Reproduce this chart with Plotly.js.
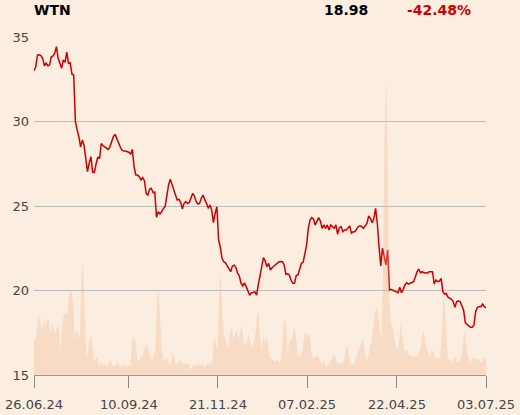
<!DOCTYPE html>
<html>
<head>
<meta charset="utf-8">
<script src="https://cdn.plot.ly/plotly-3.0.1.min.js"></script>
<style>
  html, body { margin: 0; padding: 0; background: #fcede1; }
  #chart { width: 520px; height: 415px; }
</style>
</head>
<body>
<div id="chart"></div>
<script>
// ---- Data ----
const ticker = 'WTN';
const lastPrice = '18.98';
const changePct = '-42.48%';

const tickLabels = ['26.06.24', '10.09.24', '21.11.24', '07.02.25', '22.04.25', '03.07.25'];
const tickFrac = [0, 0.210, 0.407, 0.604, 0.803, 1];

// Closing price (trading days, in order)
const priceJunAug = [33.0, 33.24, 33.93, 33.95, 33.9, 33.74, 33.3, 33.46, 33.3, 33.34, 33.83, 33.88, 34.03, 34.43, 33.74, 33.4, 33.15, 33.64, 33.5, 34.1, 33.44, 33.48, 32.8, 32.75, 29.99, 29.5, 29.1, 28.5, 28.9, 28.6, 27.8, 27.03, 27.53, 27.92, 27.0, 27.0, 27.5, 27.9, 27.8, 28.7, 28.57, 28.5, 28.4, 28.35, 28.5, 28.85, 29.1, 29.24, 28.96, 28.77, 28.5, 28.3, 28.25, 28.25, 28.2, 28.18, 28.06, 28.35, 27.33, 26.83, 26.83, 26.73, 26.54, 26.68];
const priceSepDec = [26.5, 25.75, 25.65, 25.99, 26.05, 25.79, 25.83, 24.33, 24.66, 24.53, 24.66, 24.86, 24.96, 25.75, 26.24, 26.58, 26.3, 25.99, 25.65, 25.36, 25.4, 25.2, 24.84, 25.16, 25.26, 25.16, 25.2, 25.46, 25.75, 25.59, 25.26, 25.12, 25.16, 25.46, 25.65, 25.36, 25.16, 24.86, 25.06, 24.76, 24.01, 24.57, 24.96, 22.99, 22.56, 21.9, 21.7, 21.64, 21.45, 21.21, 21.11, 21.45, 21.5, 21.37, 21.02, 20.86, 20.43, 20.27, 20.46, 20.23, 19.99, 19.72, 19.87, 19.87];
const priceJanApr = [19.93, 19.73, 20.33, 20.82, 21.51, 21.94, 21.75, 21.41, 21.61, 21.21, 21.35, 21.45, 21.51, 21.61, 21.7, 21.72, 21.7, 21.51, 20.96, 20.99, 20.92, 20.62, 20.43, 20.43, 20.88, 20.92, 21.21, 21.61, 21.67, 22.1, 22.69, 23.68, 24.17, 24.31, 24.23, 23.88, 24.07, 24.31, 24.11, 23.68, 23.88, 23.68, 23.88, 23.58, 23.88, 23.78, 23.68, 23.88, 23.33, 23.72, 23.78, 23.48, 23.58, 23.58, 23.72, 23.82, 23.39, 23.48, 23.48, 23.62, 23.78, 23.83, 23.78, 23.68, 23.8];
const priceAprJul = [23.98, 24.41, 24.27, 24.01, 24.27, 24.86, 23.98, 22.59, 21.45, 22.5, 21.9, 21.51, 22.4, 20.03, 20.07, 20.03, 19.99, 19.93, 19.87, 20.19, 19.87, 20.07, 20.33, 20.46, 20.38, 20.43, 20.46, 20.52, 20.78, 21.11, 21.27, 21.05, 21.11, 21.05, 21.05, 21.02, 21.11, 21.11, 21.11, 20.38, 20.62, 20.52, 20.56, 20.72, 19.93, 19.79, 19.83, 19.6, 19.54, 19.48, 19.34, 19.0, 19.34, 19.38, 19.34, 19.14, 18.85, 18.09, 18.0, 17.9, 17.82, 17.82, 17.96, 18.75, 19.0, 19.04, 19.04, 19.2, 19.04, 18.98];

// Traded volume (relative units)
const volumeH1 = [10.4, 10.4, 14.0, 17.2, 15.8, 12.8, 16.8, 14.3, 16.8, 16.3, 11.8, 15.1, 13.3, 12.3, 14.5, 13.8, 7.4, 12.0, 17.2, 18.7, 17.7, 21.2, 25.4, 24.6, 20.7, 10.4, 13.5, 12.8, 10.4, 29.1, 32.8, 17.2, 4.4, 7.4, 10.9, 11.8, 7.4, 3.5, 5.4, 4.9, 2.5, 4.4, 3.0, 3.5, 2.5, 3.0, 4.0, 4.6, 2.3, 2.8, 3.0, 3.9, 3.2, 2.3, 2.6, 3.0, 2.8, 2.5, 3.0, 2.3, 10.9, 11.2, 9.9, 5.4, 3.5, 5.6, 5.4, 7.4, 8.6, 9.2, 7.4, 5.2, 4.4, 5.4, 7.4, 21.2, 26.6, 17.2, 7.4, 4.9, 3.9, 5.4, 4.4, 3.0, 3.9, 6.9, 3.9, 3.0, 3.9, 4.9, 3.9, 3.0, 3.5, 3.0, 3.5, 2.3, 1.5, 2.7, 2.7, 3.0, 2.7, 3.0, 2.5, 3.5, 2.0, 3.0, 3.5, 3.0, 3.5, 4.4, 11.3, 9.4, 7.4, 24.2, 30.6, 17.2, 11.3, 11.3, 7.4, 9.4, 13.8, 13.3, 10.4, 12.8, 13.3, 9.9, 13.3, 14.8, 9.9, 8.4, 9.9, 12.3, 9.4, 8.4, 9.4, 11.3, 17.2, 19.2, 11.3, 7.4, 11.3, 9.4, 11.5, 8.4, 5.4, 4.9, 4.4, 3.9, 4.4, 4.4];
const volumeH2 = [3.5, 5.4, 12.3, 17.3, 14.3, 6.4, 10.8, 9.4, 12.3, 14.8, 11.3, 5.4, 5.9, 5.4, 7.4, 11.3, 12.8, 11.2, 12.8, 9.4, 4.9, 5.4, 5.2, 5.9, 4.9, 3.5, 3.0, 4.4, 2.0, 2.5, 3.5, 4.2, 4.9, 5.9, 5.2, 3.5, 3.0, 3.5, 3.5, 3.9, 6.4, 8.9, 7.4, 3.9, 3.0, 3.5, 3.9, 5.4, 7.4, 8.4, 9.4, 10.4, 6.4, 4.4, 5.4, 7.4, 10.4, 13.3, 17.8, 20.2, 17.3, 13.3, 10.4, 27.2, 70.0, 87.9, 62.0, 22.2, 15.3, 14.3, 10.4, 8.4, 7.4, 9.9, 15.8, 11.3, 7.4, 6.9, 7.4, 5.4, 5.9, 5.2, 5.6, 5.4, 5.9, 6.4, 7.4, 11.3, 13.3, 9.4, 7.4, 6.4, 5.4, 7.4, 6.9, 4.4, 5.4, 4.4, 5.4, 12.3, 24.2, 19.2, 9.4, 4.4, 4.9, 3.5, 4.4, 5.4, 4.4, 3.5, 4.4, 5.4, 9.4, 13.3, 8.4, 5.4, 3.5, 4.4, 4.9, 5.4, 4.4, 4.9, 4.4, 3.5, 4.4, 5.4, 4.9];

// ---- Build ----
const price = [].concat(priceJunAug, priceSepDec, priceJanApr, priceAprJul);
const volume = [].concat(volumeH1, volumeH2);
const px = price.map((_, i) => i);
const vx = volume.map((_, i) => i);
const n = price.length;
const tickVals = tickFrac.map(f => f * (n - 1));

const BG = '#fcede1';
const FONT = 'DejaVu Sans, sans-serif';

const traces = [
  {
    type: 'scatter', mode: 'lines', x: vx, y: volume,
    xaxis: 'x2', yaxis: 'y2',
    fill: 'tozeroy', fillcolor: 'rgba(240,180,140,0.32)',
    line: { width: 0, color: 'rgba(240,180,140,0)' },
    hoverinfo: 'skip', showlegend: false
  },
  {
    type: 'scatter', mode: 'lines', x: px, y: price,
    line: { color: '#cc0000', width: 1.5 },
    showlegend: false
  }
];

const layout = {
  width: 520, height: 415,
  margin: { l: 34, r: 34, t: 37, b: 40 },
  paper_bgcolor: BG, plot_bgcolor: BG,
  font: { family: FONT, size: 13, color: '#444' },
  showlegend: false,
  xaxis: {
    range: [0, n - 1], showgrid: false, zeroline: false,
    showline: true, linecolor: '#999', linewidth: 1,
    ticks: 'outside', ticklen: 12, tickcolor: '#888', tickwidth: 1,
    ticklabelstandoff: 5,
    tickvals: tickVals, ticktext: tickLabels,
    tickfont: { family: FONT, size: 13, color: '#444' }
  },
  yaxis: {
    range: [15, 35], tickvals: [15, 20, 25, 30, 35],
    showgrid: true, gridcolor: '#bdbdbd', gridwidth: 1,
    zeroline: false, showline: false, ticks: '',
    ticklabelstandoff: 4,
    tickfont: { family: FONT, size: 13, color: '#444' }
  },
  xaxis2: { overlaying: 'x', range: [0, volume.length - 1], visible: false },
  yaxis2: { overlaying: 'y', range: [0, 100], visible: false },
  annotations: [
    { text: '<b>' + ticker + '</b>', xref: 'paper', yref: 'paper', x: -0.004, y: 1.08,
      xanchor: 'left', yanchor: 'middle', showarrow: false,
      font: { family: FONT, size: 14, color: '#000' } },
    { text: '<b>' + lastPrice + '</b>', xref: 'paper', yref: 'paper', x: 0.743, y: 1.08,
      xanchor: 'right', yanchor: 'middle', showarrow: false,
      font: { family: FONT, size: 14, color: '#000' } },
    { text: '<b>' + changePct + '</b>', xref: 'paper', yref: 'paper', x: 0.971, y: 1.08,
      xanchor: 'right', yanchor: 'middle', showarrow: false,
      font: { family: FONT, size: 14, color: '#cc0000' } }
  ]
};

Plotly.newPlot('chart', traces, layout, { displayModeBar: false, staticPlot: true });
</script>
</body>
</html>
